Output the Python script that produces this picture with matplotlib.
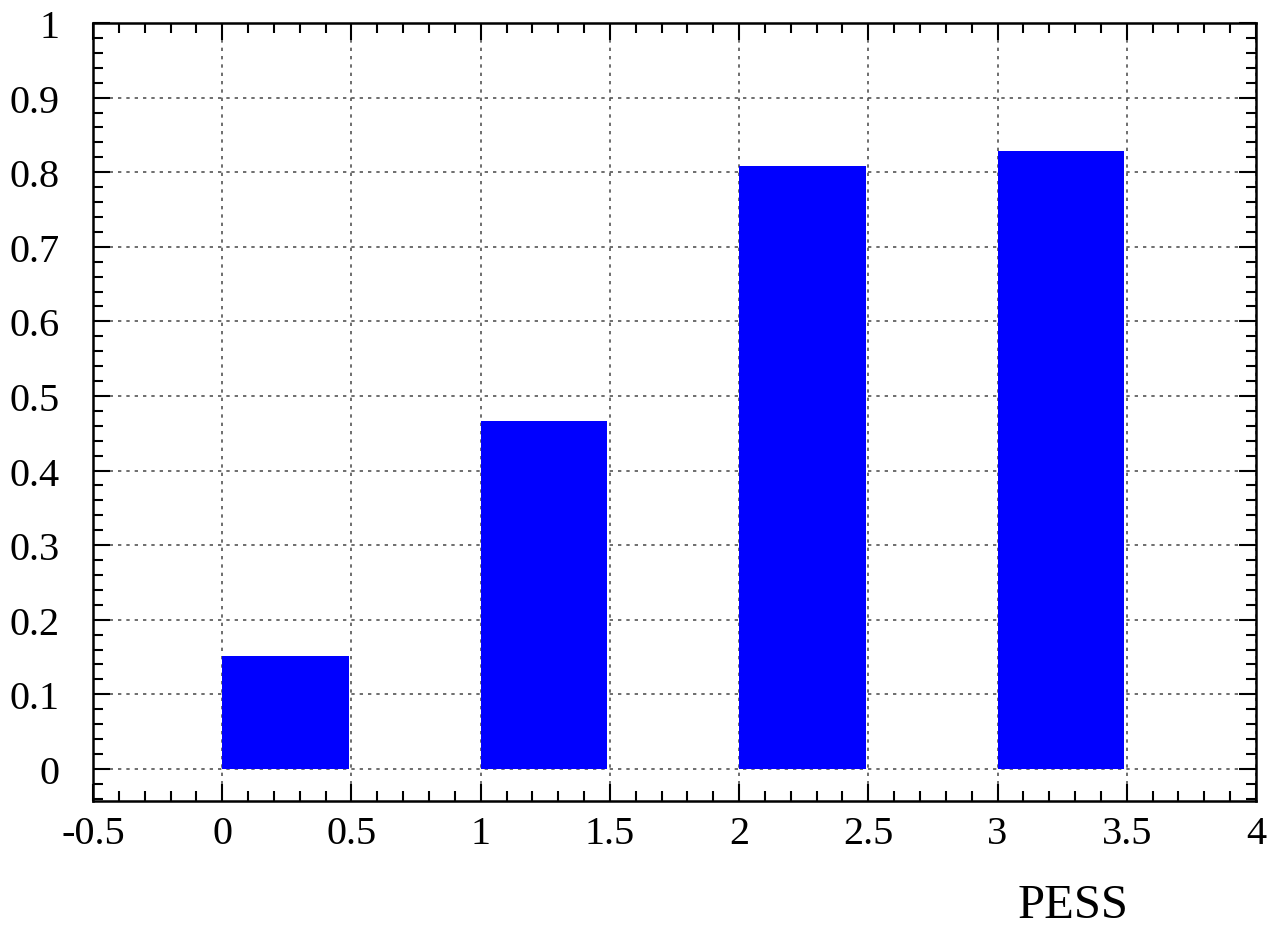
import matplotlib.pyplot as plt
from matplotlib.ticker import MultipleLocator

# data
positions = [0, 1, 2, 3]
values = [0.151, 0.466, 0.808, 0.828]
bar_width = 0.49

plt.rcParams['font.family'] = 'Liberation Serif'

fig = plt.figure(figsize=(12.69, 9.28), dpi=100)
ax = fig.add_axes([93 / 1269, 1 - 802 / 928, (1256 - 93) / 1269, (802 - 24) / 928])

ax.bar(positions, values, width=bar_width, align='edge', color='#0000ff', zorder=3)

ax.set_xlim(-0.5, 4)
ax.set_ylim(-0.043, 1)
ax.xaxis.set_major_locator(MultipleLocator(0.5))
ax.xaxis.set_minor_locator(MultipleLocator(0.1))
ax.yaxis.set_major_locator(MultipleLocator(0.1))
ax.yaxis.set_minor_locator(MultipleLocator(0.02))
ax.xaxis.set_major_formatter(plt.FuncFormatter(lambda v, p: f'{v:g}'))
ax.yaxis.set_major_formatter(plt.FuncFormatter(lambda v, p: f'{v:g}'))

ax.tick_params(which='both', direction='in', top=True, right=True, labelsize=29, width=1.5)
ax.tick_params(which='major', length=12)
ax.tick_params(which='minor', length=7)
ax.tick_params(axis='x', which='major', pad=10)
ax.tick_params(axis='y', which='major', pad=24)
for s in ax.spines.values():
    s.set_linewidth(1.8)

ax.grid(True, which='major', linestyle=(0, (2, 3)), color='#555555', linewidth=1.2, zorder=1)
ax.set_axisbelow(True)

ax.set_xlabel('PESS', fontsize=35, va='center')
ax.xaxis.set_label_coords((1073 - 93) / (1256 - 93), -(906 - 802) / (802 - 24))

fig.savefig('out.png', dpi=100)
